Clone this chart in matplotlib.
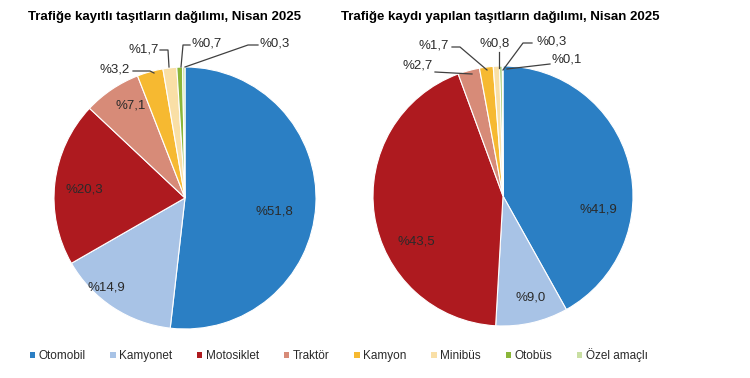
import matplotlib
matplotlib.use("Agg")
import matplotlib.pyplot as plt
from matplotlib.patches import Patch

categories = ["Otomobil", "Kamyonet", "Motosiklet", "Traktör", "Kamyon", "Minibüs", "Otobüs", "Özel amaçlı"]
registered = [51.8, 14.9, 20.3, 7.1, 3.2, 1.7, 0.7, 0.3]
new_reg = [41.9, 9.0, 43.5, 2.7, 1.7, 0.8, 0.3, 0.1]
colors = ["#2B7FC4", "#A8C3E6", "#AE1A1F", "#D78B78", "#F6B931", "#F9DFA6", "#8AB63A", "#C9DFA3"]
title_left = "Trafiğe kayıtlı taşıtların dağılımı, Nisan 2025"
title_right = "Trafiğe kaydı yapılan taşıtların dağılımı, Nisan 2025"

W, H = 750, 378
fig = plt.figure(figsize=(W / 100, H / 100), dpi=100)
fig.patch.set_facecolor("white")
FONT = ["Liberation Sans", "DejaVu Sans"]
TXT = "#2a2a2a"


def fmt(v):
    return "%" + f"{v:.1f}".replace(".", ",")


def make_pie(cx, cy, r, values, inner, outer):
    ax = fig.add_axes([(cx - r) / W, 1 - (cy + r) / H, 2 * r / W, 2 * r / H])
    ax.axis("off")
    ax.pie(values, colors=colors, startangle=90, counterclock=False, radius=1,
           wedgeprops=dict(edgecolor="white", linewidth=0.8))
    ax.set_xlim(-1, 1)
    ax.set_ylim(-1, 1)

    def d(px, py):
        return ((px - cx) / r, (cy - py) / r)

    for idx, (px, py) in inner.items():
        x, y = d(px, py)
        ax.text(x, y, fmt(values[idx]), ha="center", va="center", fontsize=9.5,
                family=FONT, color=TXT)
    for idx, (tx, ty, line) in outer.items():
        x, y = d(tx, ty)
        ax.text(x, y, fmt(values[idx]), ha="center", va="center", fontsize=9.5,
                family=FONT, color=TXT, clip_on=False)
        pts = [d(p[0], p[1]) for p in line]
        ax.plot([p[0] for p in pts], [p[1] for p in pts], color="#404040",
                linewidth=0.9, clip_on=False)
    return ax


# left pie
make_pie(185, 198, 131, registered,
         inner={0: (274, 211), 1: (106, 288), 2: (84, 190), 3: (131, 106)},
         outer={4: (115, 69, [(133, 71), (150, 71), (154, 73)]),
                5: (144, 49, [(160, 50), (168, 50), (169, 67)]),
                6: (207, 44, [(190, 45), (183, 45), (181, 67)]),
                7: (275, 44, [(258, 45), (248, 45), (185, 67)])})

# right pie
make_pie(503, 196, 130, new_reg,
         inner={0: (598, 210), 1: (531, 298), 2: (416, 242)},
         outer={3: (418, 66, [(435, 72), (472, 74)]),
                4: (434, 45, [(452, 47), (460, 47), (487, 70)]),
                5: (495, 44, [(499, 52), (499, 68)]),
                6: (552, 41, [(532, 43), (523, 43), (503, 70)]),
                7: (567, 60, [(550, 64), (507, 69)])})

fig.text(164 / W, 1 - 17 / H, title_left, ha="center", va="center", fontsize=9.5,
         fontweight="bold", family=FONT)
fig.text(500 / W, 1 - 17 / H, title_right, ha="center", va="center", fontsize=9.5,
         fontweight="bold", family=FONT)

handles = [Patch(facecolor=c, edgecolor="none") for c in colors]
leg = fig.legend(handles, categories, loc="center left", bbox_to_anchor=(19 / W, 1 - 355 / H),
                 ncol=8, frameon=False, handlelength=0.45, handleheight=0.45,
                 handletextpad=0.3, columnspacing=2.1,
                 prop=dict(family=FONT, size=8.5))
for t in leg.get_texts():
    t.set_color(TXT)

fig.savefig("out.png", dpi=100, facecolor="white")
